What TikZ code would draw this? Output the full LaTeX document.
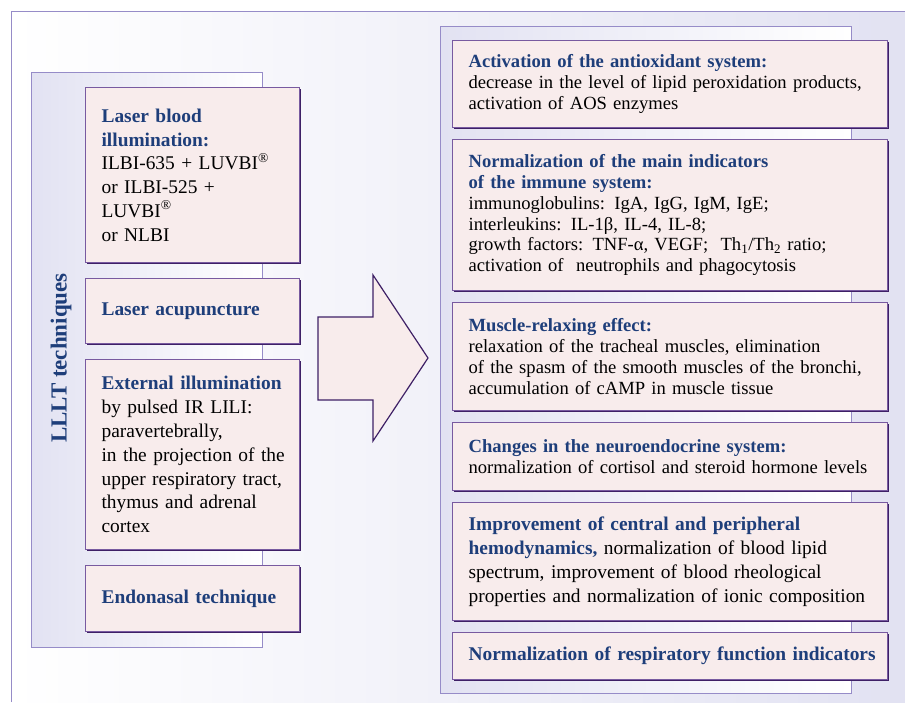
\documentclass[tikz,border=0pt]{standalone}
\usepackage{fontspec}
\setmainfont{Liberation Serif}
\usepackage{tikz}
\usetikzlibrary{shadows}

\definecolor{titleblue}{RGB}{30,62,122}
\definecolor{boxfill}{RGB}{248,236,236}
\definecolor{boxline}{RGB}{120,90,160}
\definecolor{boxdark}{RGB}{62,32,102}
\definecolor{panelline}{RGB}{150,140,200}
\definecolor{lavender}{RGB}{226,226,242}

\hyphenpenalty=10000
\exhyphenpenalty=10000

\newcommand{\tb}[1]{{\color{titleblue}\bfseries #1}}
\newcommand{\reg}{\textsuperscript{\textregistered}}

\tikzset{
    techbox/.style={draw=boxline, line width=1.2pt, fill=boxfill, anchor=north west,
        inner xsep=16pt, inner ysep=0pt, text width=182pt, align=left,
        font=\fontsize{19.4}{23.8}\selectfont,
        drop shadow={shadow xshift=1.2pt, shadow yshift=-1.8pt, fill=boxdark, opacity=1}},
    effectbox/.style={techbox, text width=403pt, font=\fontsize{18.6}{20.8}\selectfont},
    bigeffect/.style={effectbox, font=\fontsize{19.4}{23.8}\selectfont},
    panel/.style={draw=panelline, line width=1pt, left color=lavender, right color=white}
}

\begin{document}
\begin{tikzpicture}[x=1pt, y=-1pt]
    \useasboundingbox (0,0) rectangle (905,702);
    \fill[white] (0,0) rectangle (905,702);
    \fill[left color=white, right color=lavender] (11,11) rectangle (905,702);
    \draw[panelline, line width=1pt] (11,702) -- (11,11) -- (905,11);

    % left panel: techniques
    \draw[panel] (31,72) rectangle (262,647);
    \node[rotate=90, font=\fontsize{23}{23}\selectfont\bfseries, text=titleblue] (lllt) at (61,358) {LLLT techniques};

    \node[techbox, minimum height=175pt] (laserblood) at (85,87)
        {\tb{Laser blood\\illumination:}\\ILBI-635 + LUVBI\reg\\or ILBI-525 +\\LUVBI\reg\\or NLBI};
    \node[techbox, minimum height=65pt] (acupuncture) at (85,278)
        {\tb{Laser acupuncture}};
    \node[techbox, minimum height=190pt] (external) at (85,359)
        {\tb{External illumination}\\by pulsed IR LILI:\\paravertebrally,\\\mbox{in the projection of the}\\\mbox{upper respiratory tract,}\\thymus and adrenal\\cortex};
    \node[techbox, minimum height=66pt] (endonasal) at (85,565)
        {\tb{Endonasal technique}};

    % block arrow
    \draw[boxdark, line width=1.2pt, fill=boxfill, line join=miter]
        (318,317) -- (373,317) -- (373,275) -- (428,358) -- (373,441) -- (373,400) -- (318,400) -- cycle;

    % right panel: effects
    \draw[panel] (440,26) rectangle (851,693);

    \node[effectbox, minimum height=87pt] (antioxidant) at (452,40)
        {\tb{Activation of the antioxidant system:}\\\mbox{decrease in the level of lipid peroxidation products,}\\activation of AOS enzymes};
    \node[effectbox, minimum height=151pt] (immune) at (452,139)
        {\tb{Normalization of the main indicators\\of the immune system:}\\immunoglobulins: IgA, IgG, IgM, IgE;\\interleukins: IL-1β, IL-4, IL-8;\\growth factors: TNF-α, VEGF;\ \ Th\textsubscript{1}/Th\textsubscript{2} ratio;\\activation of\ \ neutrophils and phagocytosis};
    \node[effectbox, minimum height=108pt] (relaxing) at (452,302)
        {\tb{Muscle-relaxing effect:}\\relaxation of the tracheal muscles, elimination\\\mbox{of the spasm of the smooth muscles of the bronchi,}\\accumulation of cAMP in muscle tissue};
    \node[effectbox, minimum height=68pt] (neuroendo) at (452,422)
        {\tb{Changes in the neuroendocrine system:}\\\mbox{normalization of cortisol and steroid hormone levels}};
    \node[bigeffect, minimum height=118pt] (hemodyn) at (452,502)
        {\tb{Improvement of central and peripheral\\hemodynamics,} normalization of blood lipid\\spectrum, improvement of blood rheological\\\mbox{properties and normalization of ionic composition}};
    \node[bigeffect, minimum height=47pt] (respiratory) at (452,632)
        {\tb{\mbox{Normalization of respiratory function indicators}}};
\end{tikzpicture}
\end{document}
